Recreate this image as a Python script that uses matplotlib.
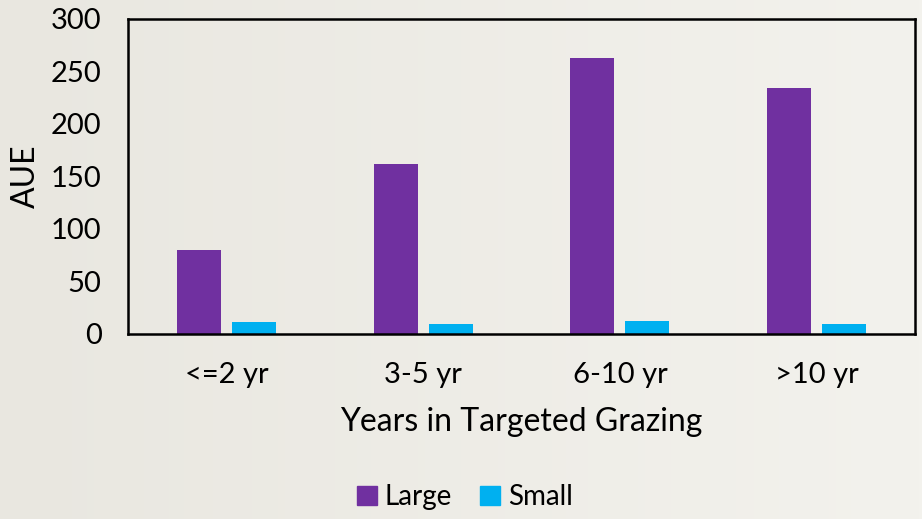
import numpy as np
import matplotlib.pyplot as plt
from matplotlib.patches import Patch

categorias = ["<=2 yr", "3-5 yr", "6-10 yr", ">10 yr"]
grande = [80, 162, 262, 234]
pequeno = [11, 9.5, 12.5, 9.5]

plt.rcParams['font.family'] = ['Lato', 'DejaVu Sans']

fig = plt.figure(figsize=(9.22, 5.19), dpi=100)
# fundo com leve degradê
fundo = fig.add_axes([0, 0, 1, 1])
grad = np.linspace(0, 1, 256).reshape(1, -1)
fundo.imshow(grad, aspect='auto', cmap=plt.matplotlib.colors.LinearSegmentedColormap.from_list(
    'bg', ['#E9E7E0', '#F3F2ED']), extent=[0, 1, 0, 1])
fundo.axis('off')

ax = fig.add_axes([128/922, 1 - 334/519, (915-128)/922, (334-18.5)/519])
ax.patch.set_alpha(0)

x = np.arange(len(categorias))
larg = 0.224
ax.bar(x - 0.14, grande, larg, color='#7030A0', label='Large')
ax.bar(x + 0.14, pequeno, larg, color='#00B0F0', label='Small')

ax.set_xlim(-0.5, 3.5)
ax.set_ylim(0, 300)
ax.set_yticks(range(0, 301, 50))
ax.set_xticks(x)
ax.set_xticklabels(categorias, fontsize=21)
ax.tick_params(axis='y', labelsize=21, length=0, pad=19)
ax.tick_params(axis='x', length=0, pad=20)
for s in ax.spines.values():
    s.set_linewidth(1.8)
    s.set_color('black')

ax.set_ylabel("AUE", fontsize=23, labelpad=7)
ax.set_xlabel("Years in Targeted Grazing", fontsize=23, labelpad=14)

handles = [Patch(color='#7030A0', label='Large'), Patch(color='#00B0F0', label='Small')]
fig.legend(handles=handles, loc='center', bbox_to_anchor=(465/922, 1 - 497/519), ncol=2,
           frameon=False, fontsize=20, handlelength=0.7, handleheight=0.7,
           handletextpad=0.3, columnspacing=1.0)

plt.savefig("out.png", dpi=100)
plt.close('all')
